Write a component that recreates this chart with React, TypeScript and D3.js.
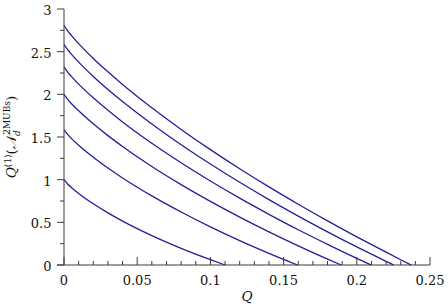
import React, { useEffect, useRef } from "react";
import * as d3 from "d3";

// sample points along Q (shared by every curve)
const qGrid = [0, 0.0025, 0.005, 0.01, 0.02, 0.03, 0.04, 0.06, 0.08, 0.1, 0.12, 0.14, 0.16, 0.18, 0.2, 0.22, 0.23];

// one curve per dimension d
const rateD2 = [1, 0.95, 0.909, 0.838, 0.717, 0.611, 0.515, 0.345, 0.196, 0.062];
const rateD3 = [1.585, 1.53, 1.484, 1.403, 1.262, 1.136, 1.02, 0.81, 0.621, 0.447, 0.286, 0.137];
const rateD4 = [2, 1.942, 1.893, 1.807, 1.654, 1.516, 1.389, 1.155, 0.942, 0.745, 0.561, 0.388, 0.224, 0.069];
const rateD5 = [2.322, 2.261, 2.211, 2.12, 1.959, 1.813, 1.677, 1.427, 1.198, 0.984, 0.783, 0.594, 0.413, 0.242, 0.078];
const rateD6 = [2.585, 2.523, 2.471, 2.377, 2.209, 2.057, 1.915, 1.652, 1.409, 1.183, 0.969, 0.766, 0.573, 0.389, 0.212, 0.043];
const rateD7 = [2.807, 2.744, 2.691, 2.594, 2.421, 2.264, 2.116, 1.842, 1.589, 1.352, 1.128, 0.915, 0.712, 0.517, 0.33, 0.15, 0.062];

// Q where each curve reaches zero
const cutoffs = [0.11, 0.1595, 0.1894, 0.2099, 0.2252, 0.2372];

const xTicks = [0, 0.05, 0.1, 0.15, 0.2, 0.25];
const xMinor = [0.01, 0.02, 0.03, 0.04, 0.06, 0.07, 0.08, 0.09, 0.11, 0.12, 0.13, 0.14, 0.16, 0.17, 0.18, 0.19, 0.21, 0.22, 0.23, 0.24];
const yTicks = [0, 0.5, 1, 1.5, 2, 2.5, 3];
const yMinor = [0.25, 0.75, 1.25, 1.75, 2.25, 2.75];

function Chart() {
  const canvas = useRef<SVGSVGElement>(null);

  const drawChart = () => {
    const width = 448;
    const height = 307;
    const svg = d3.select(canvas.current);
    svg.selectAll("*").remove();

    const x = d3.scaleLinear().domain([0, 0.25]).range([64, 430]);
    const y = d3.scaleLinear().domain([0, 3]).range([265, 9]);

    const font = "DejaVu Serif";
    const axisColor = "#3a3a3a";
    const lineColor = "#20209a";
    const textColor = "#111";

    const series = [rateD2, rateD3, rateD4, rateD5, rateD6, rateD7].map((vals, i) => {
      const pts: [number, number][] = vals.map((v, j) => [qGrid[j], v]);
      pts.push([cutoffs[i], 0]);
      return pts;
    });

    const line = d3
      .line<[number, number]>()
      .x((d) => x(d[0]))
      .y((d) => y(d[1]))
      .curve(d3.curveMonotoneX);

    svg
      .append("g")
      .selectAll("path")
      .data(series)
      .enter()
      .append("path")
      .attr("d", (d) => line(d))
      .attr("fill", "none")
      .attr("stroke", lineColor)
      .attr("stroke-width", 1.3);

    // axes
    const ax = svg.append("g").attr("stroke", axisColor).attr("stroke-width", 1);
    ax.append("line").attr("x1", x(0)).attr("x2", x(0)).attr("y1", y(0)).attr("y2", y(3));
    ax.append("line").attr("x1", x(0) - 7).attr("x2", x(0.25)).attr("y1", y(0)).attr("y2", y(0));

    ax.selectAll(".ymaj")
      .data(yTicks)
      .enter()
      .append("line")
      .attr("x1", x(0) - 7)
      .attr("x2", x(0))
      .attr("y1", (d) => y(d))
      .attr("y2", (d) => y(d));
    ax.selectAll(".ymin")
      .data(yMinor)
      .enter()
      .append("line")
      .attr("x1", x(0) - 4)
      .attr("x2", x(0))
      .attr("y1", (d) => y(d))
      .attr("y2", (d) => y(d));
    ax.selectAll(".xmaj")
      .data(xTicks)
      .enter()
      .append("line")
      .attr("x1", (d) => x(d))
      .attr("x2", (d) => x(d))
      .attr("y1", y(0))
      .attr("y2", y(0) - 8);
    ax.selectAll(".xmin")
      .data(xMinor)
      .enter()
      .append("line")
      .attr("x1", (d) => x(d))
      .attr("x2", (d) => x(d))
      .attr("y1", y(0))
      .attr("y2", y(0) - 4);

    const fmt = d3.format("");
    svg
      .append("g")
      .selectAll("text")
      .data(yTicks)
      .enter()
      .append("text")
      .attr("x", 51.5)
      .attr("y", (d) => y(d) + 6)
      .attr("text-anchor", "end")
      .attr("font-family", font)
      .attr("font-size", 13)
      .attr("fill", textColor)
      .text((d) => fmt(d));

    svg
      .append("g")
      .selectAll("text")
      .data(xTicks)
      .enter()
      .append("text")
      .attr("x", (d) => x(d))
      .attr("y", 285)
      .attr("text-anchor", "middle")
      .attr("font-family", font)
      .attr("font-size", 13)
      .attr("fill", textColor)
      .text((d) => fmt(d));

    svg
      .append("text")
      .attr("x", (x(0) + x(0.25)) / 2)
      .attr("y", 301)
      .attr("text-anchor", "middle")
      .attr("font-family", font)
      .attr("font-style", "italic")
      .attr("font-size", 13.5)
      .attr("fill", textColor)
      .text("Q");

    // y title
    const yt = svg
      .append("text")
      .attr("transform", `translate(16,${(y(0) + y(3)) / 2}) rotate(-90)`)
      .attr("text-anchor", "middle")
      .attr("font-family", font)
      .attr("font-size", 13.5)
      .attr("fill", textColor);
    yt.append("tspan").attr("font-style", "italic").text("Q");
    yt.append("tspan").attr("font-size", 9).attr("dy", -5).text("(1)");
    yt.append("tspan").attr("dy", 5).text("(");
    yt.append("tspan").attr("font-style", "italic").text("𝒩");
    yt.append("tspan").attr("font-size", 9).attr("font-style", "italic").attr("dy", 4).text("d");
    yt.append("tspan").attr("font-size", 9).attr("dx", -4.5).attr("dy", -10).text("2MUBs");
    yt.append("tspan").attr("dy", 6).text(")");

    svg.attr("width", width).attr("height", height);
  };

  useEffect(() => {
    drawChart();
  }, []);

  return (
    <svg
      ref={canvas}
      width={448}
      height={307}
      style={{ position: "absolute", left: 0, top: 0, background: "#fff" }}
    />
  );
}

export default function App() {
  return <Chart />;
}
